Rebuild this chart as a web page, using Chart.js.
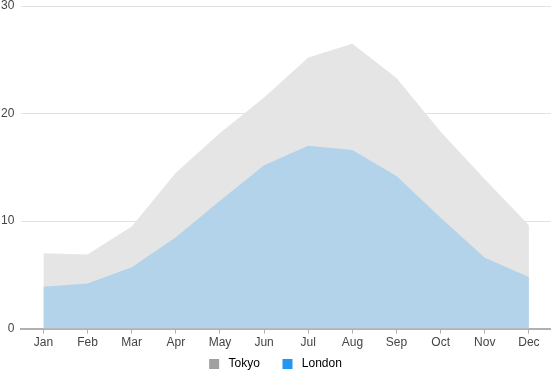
<!DOCTYPE html>
<html>
<head>
<meta charset="utf-8">
<script src="https://cdn.jsdelivr.net/npm/chart.js@4/dist/chart.umd.min.js"></script>
<style>
  body { margin: 0; background: #fff; }
  #wrap { width: 551px; height: 377px; }
</style>
</head>
<body>
<div id="wrap"><canvas id="chart"></canvas></div>
<script>
const months = ['Jan', 'Feb', 'Mar', 'Apr', 'May', 'Jun', 'Jul', 'Aug', 'Sep', 'Oct', 'Nov', 'Dec'];
const tokyo = [7.0, 6.9, 9.5, 14.5, 18.2, 21.5, 25.2, 26.5, 23.3, 18.3, 13.9, 9.6];
const london = [3.9, 4.2, 5.7, 8.5, 11.9, 15.2, 17.0, 16.6, 14.2, 10.3, 6.6, 4.8];
const legendColors = { Tokyo: '#a0a0a0', London: '#2196f3' };

Chart.defaults.font.family = '"Liberation Sans", Arial, sans-serif';
Chart.defaults.font.size = 12;
Chart.defaults.color = '#444';

// keep the legend centred on the canvas despite the negative left padding
const legendShift = {
    id: 'legendShift',
    afterLayout: function (c) {
        if (c.legend) {
            c.legend.left = 0;
            c.legend.width = c.legend.right;
        }
    }
};

const ctx = document.getElementById('chart').getContext('2d');
const chart = new Chart(ctx, {
    type: 'line',
    data: {
        labels: months,
        datasets: [{
            label: 'London',
            data: london,
            backgroundColor: 'rgb(179, 211, 234)',
            borderWidth: 0,
            pointRadius: 0,
            fill: 'origin',
            order: 0
        }, {
            label: 'Tokyo',
            data: tokyo,
            backgroundColor: 'rgb(229, 229, 229)',
            borderWidth: 0,
            pointRadius: 0,
            fill: 'origin',
            order: 1
        }]
    },
    options: {
        responsive: true,
        maintainAspectRatio: false,
        animation: false,
        layout: { padding: { top: 0, right: 0, left: -6, bottom: -3 } },
        plugins: {
            legend: {
                position: 'bottom',
                reverse: true,
                labels: {
                    boxWidth: 10,
                    boxHeight: 10,
                    padding: 6,
                    color: '#333',
                    generateLabels: function (c) {
                        return c.data.datasets.map(function (ds, i) {
                            return {
                                // spaces widen the gaps around the text
                                text: ds.label === 'Tokyo' ? ' ' + ds.label + '     ' : ' ' + ds.label,
                                fillStyle: legendColors[ds.label],
                                strokeStyle: 'transparent',
                                lineWidth: 0,
                                datasetIndex: i
                            };
                        });
                    }
                }
            },
            tooltip: { enabled: false }
        },
        scales: {
            x: {
                offset: true,
                grid: { drawOnChartArea: false, drawTicks: true, tickLength: 5, color: '#b0b0b0', offset: false },
                border: { color: '#b0b0b0', width: 2 },
                ticks: { padding: 2 }
            },
            y: {
                min: 0,
                max: 30,
                ticks: { stepSize: 10, padding: 7 },
                grid: { color: '#e2e2e2', drawTicks: false },
                border: { display: false },
                afterFit: function (s) { s.paddingTop = 6; }
            }
        }
    },
    plugins: [legendShift]
});
</script>
</body>
</html>
